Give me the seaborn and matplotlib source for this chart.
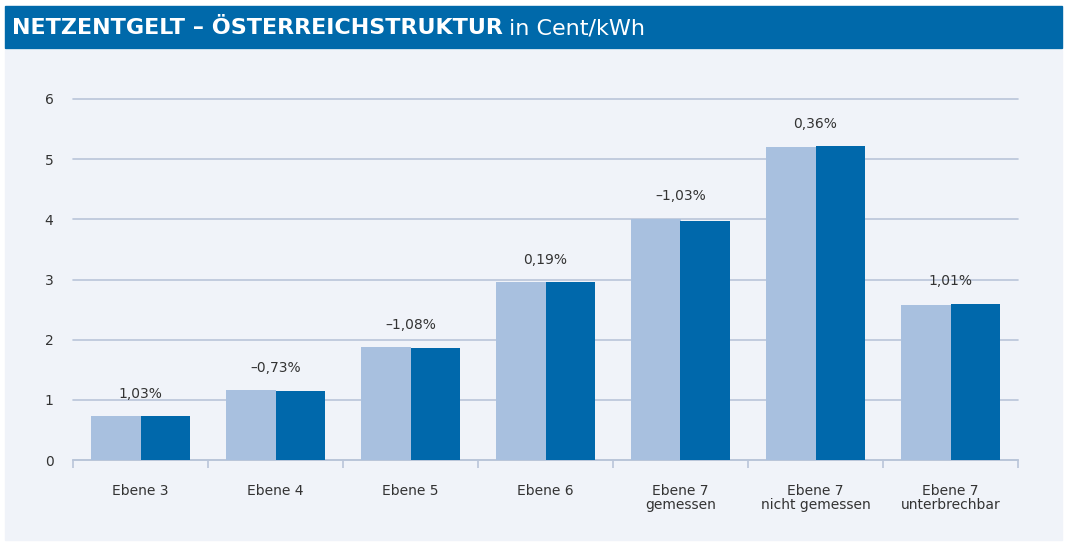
import numpy as np
import pandas as pd
import matplotlib.pyplot as plt
import seaborn as sns
from matplotlib.patches import Rectangle

# Data
CATEGORIES = ['Ebene 3', 'Ebene 4', 'Ebene 5', 'Ebene 6',
              'Ebene 7\ngemessen', 'Ebene 7\nnicht gemessen', 'Ebene 7\nunterbrechbar']
PREV_VALUES = [0.73, 1.16, 1.88, 2.96, 4.01, 5.20, 2.57]
CURR_VALUES = [0.73, 1.15, 1.86, 2.96, 3.97, 5.22, 2.60]
CHANGE_LABELS = ['1,03%', '–0,73%', '–1,08%', '0,19%', '–1,03%', '0,36%', '1,01%']
SERIES = ['Vorjahr', 'Aktuell']

LIGHT = '#A8C0DF'
DARK = '#0068AB'
BAND = '#0069AA'
PANEL = '#F0F3F9'
GRID = '#B9C5D9'
TEXT = '#333333'

df = pd.DataFrame({
    'Ebene': CATEGORIES * 2,
    'Wert': PREV_VALUES + CURR_VALUES,
    'Serie': [SERIES[0]] * len(CATEGORIES) + [SERIES[1]] * len(CATEGORIES),
})

sns.set_theme(style="white")
plt.rcParams['font.family'] = ['DejaVu Sans']

W, H = 1066, 544
fig = plt.figure(figsize=(W / 100, H / 100), dpi=100, facecolor='white')

# background panel and title band
fig.patches.append(Rectangle((5 / W, 1 - 540 / H), 1057 / W, 490 / H,
                             transform=fig.transFigure, color=PANEL, zorder=-2))
fig.patches.append(Rectangle((5 / W, 1 - 48 / H), 1057 / W, 42 / H,
                             transform=fig.transFigure, color=BAND, zorder=-1))
title_font = ['Liberation Sans Narrow', 'DejaVu Sans Condensed', 'DejaVu Sans']
t = fig.text(12 / W, 1 - 28 / H, 'NETZENTGELT – ÖSTERREICHSTRUKTUR', color='white',
             fontsize=16, fontweight='bold', va='center', ha='left', family=title_font)
fig.canvas.draw()
bb = t.get_window_extent()
fig.text(bb.x1 / W + 6 / W, 1 - 28 / H, 'in Cent/kWh', color='white',
         fontsize=16, va='center', ha='left', family=title_font)

ax = fig.add_axes([73 / W, (H - 460) / H, (1018 - 73) / W, (460 - 99) / H])
ax.set_facecolor('none')

sns.barplot(data=df, x='Ebene', y='Wert', hue='Serie', palette=[LIGHT, DARK],
            width=0.74, gap=0, saturation=1, legend=False, linewidth=0,
            ax=ax, zorder=3)

ax.set_ylim(0, 6)
ax.set_xlim(-0.5, len(CATEGORIES) - 0.5)
ax.set_yticks(range(0, 7))
ax.yaxis.grid(True, color=GRID, linewidth=1.2, zorder=0)
ax.set_axisbelow(True)
for gl in ax.get_ygridlines():
    gl.set_clip_on(False)
ax.set_xlabel('')
ax.set_ylabel('')
for s in ['top', 'right', 'left']:
    ax.spines[s].set_visible(False)
ax.spines['bottom'].set_color(GRID)
ax.spines['bottom'].set_linewidth(1.2)

ax.set_xticks(np.arange(len(CATEGORIES)))
ax.set_xticklabels(CATEGORIES, fontsize=10, color=TEXT, linespacing=1.05)
ax.set_xticks(np.arange(-0.5, len(CATEGORIES)), minor=True)
ax.tick_params(axis='x', which='major', length=0, pad=17)
ax.tick_params(axis='x', which='minor', bottom=True, length=6, color=GRID,
               width=1.2, direction='out')
ax.tick_params(axis='y', length=0, labelsize=10, labelcolor=TEXT, pad=14)

for i, lab in enumerate(CHANGE_LABELS):
    top = max(PREV_VALUES[i], CURR_VALUES[i])
    ax.annotate(lab, (i, top), xytext=(0, 11), textcoords='offset points',
                ha='center', va='bottom', fontsize=10, color=TEXT,
                annotation_clip=False)

fig.savefig('out.png', dpi=100, facecolor='white')
